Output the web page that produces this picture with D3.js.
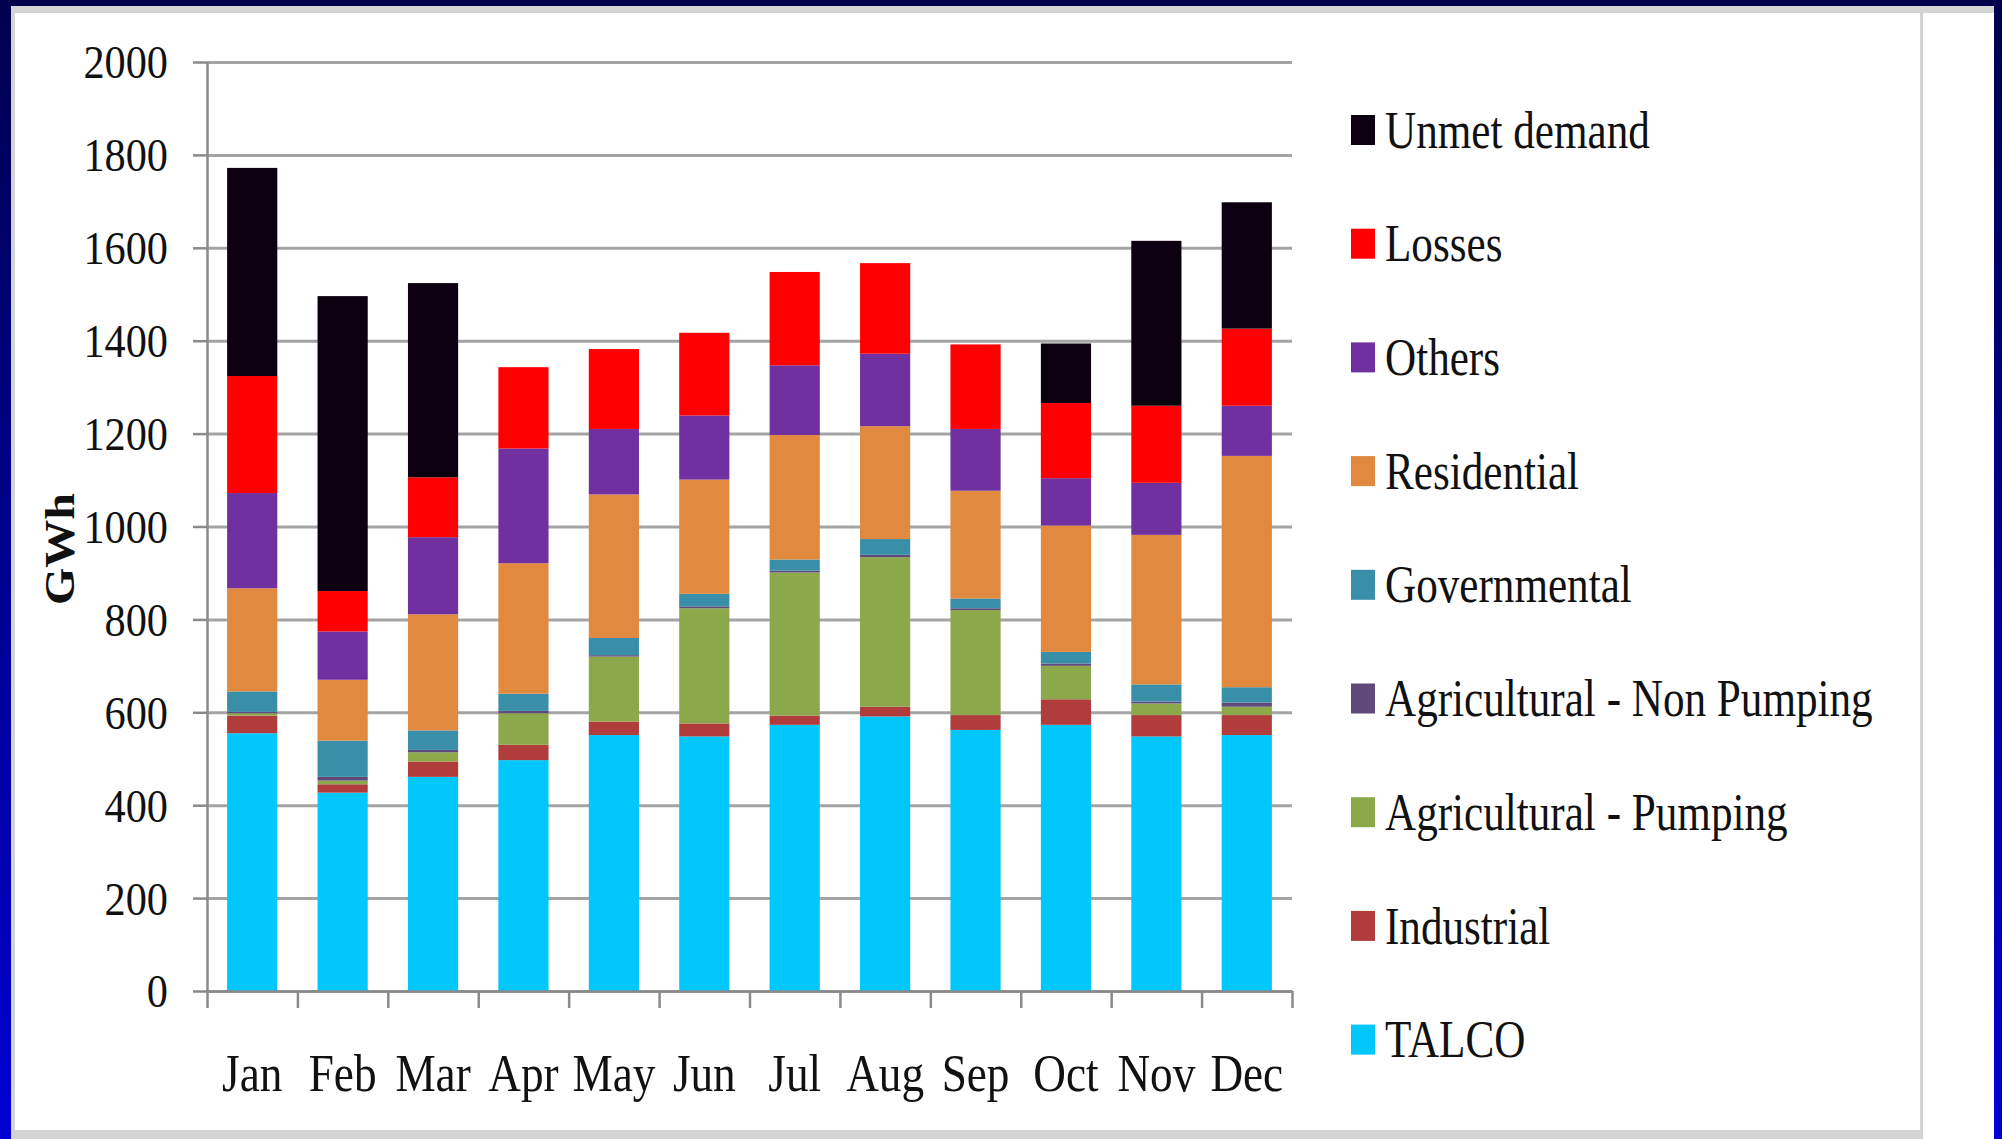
<!DOCTYPE html>
<html lang="en">
	<head>
		<meta charset="utf-8">
		<title>Monthly energy balance (GWh)</title>
		<script type="text/javascript" src="https://cdn.jsdelivr.net/npm/d3@7/dist/d3.min.js"></script>
		<style>
			body { margin: 0; padding: 0; }
			svg { display: block; }
			text { font-family: "Liberation Serif", "Times New Roman", serif; fill: #111; }
		</style>
	</head>
	<body>
		<div id="grafica"></div>
		<script type="text/javascript">

			// data (GWh)
			var months = ["Jan","Feb","Mar","Apr","May","Jun","Jul","Aug","Sep","Oct","Nov","Dec"];
			var yTicks = [0,200,400,600,800,1000,1200,1400,1600,1800,2000];

			var talco       = [555, 427, 461, 497, 551, 548, 573, 591, 562, 573, 548, 551];
			var industrial  = [38, 18, 33, 33, 29, 28, 20, 21, 32, 55, 46, 43];
			var agPumping   = [5, 8, 20, 68, 140, 248, 308, 322, 226, 72, 25, 18];
			var agNonPump   = [3, 8, 5, 5, 3, 4, 4, 5, 4, 5, 4, 9];
			var governmental= [44, 78, 42, 37, 37, 27, 24, 34, 21, 25, 37, 33];
			var residential = [222, 131, 250, 281, 309, 246, 268, 243, 232, 272, 322, 498];
			var others      = [205, 104, 166, 247, 141, 138, 150, 156, 133, 102, 112, 108];
			var losses      = [252, 87, 129, 175, 172, 178, 201, 195, 182, 162, 166, 166];
			var unmet       = [448, 635, 418, 0, 0, 0, 0, 0, 0, 128, 355, 272];

			// bottom to top
			var seriesNames = ["TALCO", "Industrial", "Agricultural - Pumping", "Agricultural - Non Pumping",
				"Governmental", "Residential", "Others", "Losses", "Unmet demand"];
			var seriesValues = [talco, industrial, agPumping, agNonPump, governmental, residential, others, losses, unmet];
			var seriesColors = ["#00c8fc", "#b03c3c", "#8ca84a", "#604a7b", "#3a8fa8", "#e0893f", "#7030a0", "#ff0000", "#0c0010"];

			var w = 2002;
			var h = 1139;

			var rows = months.map(function(m, i){
				var r = { month: m };
				seriesNames.forEach(function(s, j){ r[s] = seriesValues[j][i]; });
				return r;
			});

			var stacked = d3.stack().keys(seriesNames)(rows);

			var svg = d3.select("#grafica")
				.append("svg")
				.attr("width", w)
				.attr("height", h);

			// slide background
			var grad = svg.append("defs").append("linearGradient")
				.attr("id", "bg").attr("x1", 0).attr("y1", 0).attr("x2", 0).attr("y2", 1);
			grad.append("stop").attr("offset", "0%").attr("stop-color", "#00004e");
			grad.append("stop").attr("offset", "100%").attr("stop-color", "#0000d4");

			svg.append("rect").attr("width", w).attr("height", h).attr("fill", "url(#bg)");
			svg.append("rect").attr("x", 11).attr("y", 6).attr("width", 1983).attr("height", 1133).attr("fill", "#d4d4d4");
			svg.append("rect").attr("x", 15).attr("y", 13).attr("width", 1905).attr("height", 1117).attr("fill", "#ffffff");
			svg.append("rect").attr("x", 1923).attr("y", 13).attr("width", 71).attr("height", 1126).attr("fill", "#ffffff");

			var x = d3.scaleBand()
				.domain(months)
				.range([207, 1292])
				.paddingInner(0.445)
				.paddingOuter(0.2225);

			var xEdges = d3.scaleLinear().domain([0, 12]).range([207, 1292]);

			var y = d3.scaleLinear()
				.domain([0, 2000])
				.range([991, 62]);

			// grid lines
			svg.append("g")
				.attr("transform", "translate(207,0)")
				.call(d3.axisLeft(y).tickValues(yTicks).tickSize(-1085).tickFormat(""))
				.call(function(g){
					g.select(".domain").remove();
					g.selectAll("line").attr("stroke", "#a4a4a4").attr("stroke-width", 3);
				});

			// bars
			svg.append("g")
				.selectAll("g")
				.data(stacked)
				.enter()
				.append("g")
				.attr("fill", function(d, i){ return seriesColors[i]; })
				.selectAll("rect")
				.data(function(d){ return d; })
				.enter()
				.append("rect")
				.attr("x", function(d){ return x(d.data.month); })
				.attr("y", function(d){ return y(d[1]); })
				.attr("width", x.bandwidth())
				.attr("height", function(d){ return y(d[0]) - y(d[1]); });

			// y axis
			svg.append("g")
				.attr("transform", "translate(207,0)")
				.call(d3.axisLeft(y).tickValues(yTicks).tickSize(14).tickSizeOuter(0).tickFormat(d3.format("d")))
				.call(function(g){
					g.select(".domain").attr("stroke", "#8a8a8a").attr("stroke-width", 2.5);
					g.selectAll("line").attr("stroke", "#8a8a8a").attr("stroke-width", 2.5);
					g.selectAll("text")
						.attr("x", 0)
						.attr("dy", "0.34em")
						.attr("transform", "translate(-39,0) scale(0.9,1)")
						.style("font-size", "47px")
						.style("font-family", "'Liberation Serif', 'Times New Roman', serif")
						.attr("fill", "#111");
				});

			// x axis line and ticks at band edges
			svg.append("g")
				.attr("transform", "translate(0,991)")
				.call(d3.axisBottom(xEdges).tickValues(d3.range(0, 13)).tickSize(17).tickSizeOuter(0).tickFormat(""))
				.call(function(g){
					g.select(".domain").attr("stroke", "#8a8a8a").attr("stroke-width", 2.5);
					g.selectAll("line").attr("stroke", "#8a8a8a").attr("stroke-width", 2.5);
				});

			// month labels
			svg.append("g")
				.attr("transform", "translate(0,991)")
				.call(d3.axisBottom(x).tickSize(0))
				.call(function(g){
					g.select(".domain").remove();
					g.selectAll("text")
						.attr("y", 0)
						.attr("dy", null)
						.attr("transform", "translate(0,100) scale(0.87,1)")
						.style("font-size", "52px")
						.style("font-family", "'Liberation Serif', 'Times New Roman', serif")
						.attr("fill", "#111");
				});

			// y title
			svg.append("text")
				.attr("transform", "translate(74,549) rotate(-90) scale(1,0.88)")
				.attr("text-anchor", "middle")
				.style("font-size", "48px")
				.style("font-weight", "bold")
				.text("GWh");

			// legend, top item is the top of the stack
			var legendOrder = d3.range(seriesNames.length).reverse();
			var legend = svg.append("g")
				.selectAll("g")
				.data(legendOrder)
				.enter()
				.append("g")
				.attr("transform", function(d, i){ return "translate(1351," + (130 + i * 113.7) + ")"; });

			legend.append("rect")
				.attr("x", 0)
				.attr("y", -15)
				.attr("width", 24)
				.attr("height", 30)
				.attr("fill", function(d){ return seriesColors[d]; });

			legend.append("text")
				.attr("transform", "translate(34,0) scale(0.83,1)")
				.attr("dy", "0.34em")
				.style("font-size", "52px")
				.text(function(d){ return seriesNames[d]; });

		</script>
	</body>
</html>
